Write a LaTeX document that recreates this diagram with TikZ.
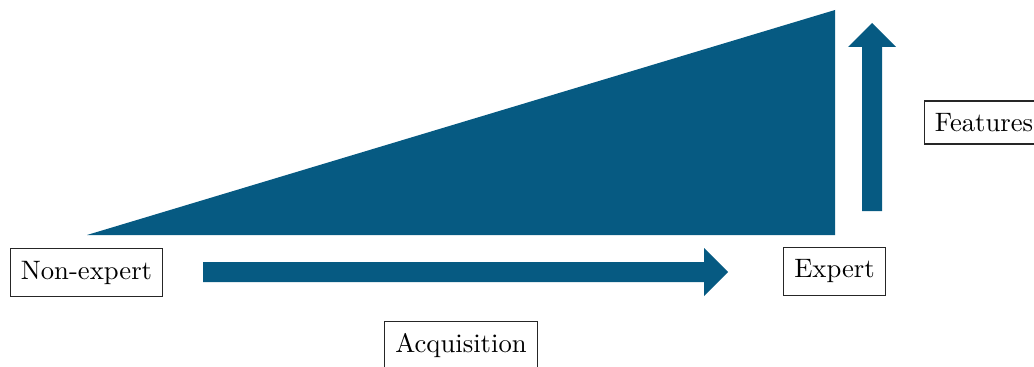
\documentclass[tikz,border=0pt]{standalone}
\usepackage{tikz}

\definecolor{skillblue}{HTML}{065A82}
\tikzset{tagbox/.style={draw=black!85, fill=white, inner xsep=4pt, inner ysep=4.6pt}}

\begin{document}
\begin{tikzpicture}[x=0.375pt,y=-0.375pt]
        \useasboundingbox (0,0) rectangle (1034,367);
        % the growing wedge
        \fill[skillblue] (87,235) -- (835,10) -- (835,235) -- cycle;
        % arrow to the right
        \fill[skillblue] (203,262) -- (704,262) -- (704,248) -- (728,272)
                -- (704,296) -- (704,282) -- (203,282) -- cycle;
        % arrow going up
        \fill[skillblue] (862,211) -- (862,47) -- (848,47) -- (872,23)
                -- (896,47) -- (882,47) -- (882,211) -- cycle;
        \node[tagbox] (nonexpert) at (86.5,272.5) {Non-expert};
        \node[tagbox] (expert) at (834.5,271.5) {Expert};
        \node[tagbox] (acquisition) at (461,345.5) {Acquisition};
        \node[tagbox] (features) at (984,122.5) {Features};
\end{tikzpicture}
\end{document}
